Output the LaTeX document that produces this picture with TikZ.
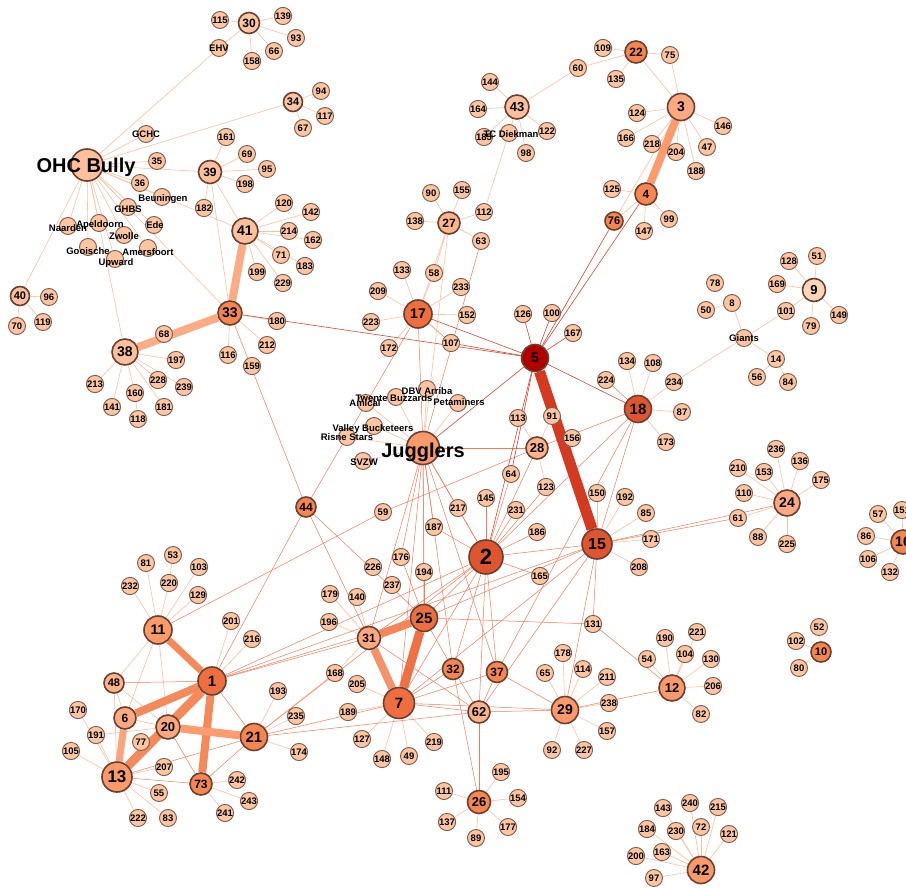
\documentclass[tikz,border=0pt]{standalone}
\usepackage{fontspec}
\setmainfont{Liberation Sans}
\usetikzlibrary{backgrounds}
\definecolor{bord}{HTML}{7D5A4A}
\definecolor{bordD}{HTML}{6A4030}
\definecolor{cL}{HTML}{FCC6A2}
\definecolor{cL2}{HTML}{FCC09C}
\definecolor{cVL}{HTML}{FDD6BA}
\definecolor{cM}{HTML}{FCA880}
\definecolor{cM3}{HTML}{FCB48C}
\definecolor{cM2}{HTML}{FA9A6A}
\definecolor{cO}{HTML}{F58650}
\definecolor{cO2}{HTML}{EE6E40}
\definecolor{cR}{HTML}{DE5530}
\definecolor{cDR}{HTML}{B00000}
\definecolor{eL}{HTML}{FCC0A0}
\definecolor{eM}{HTML}{F27C58}
\definecolor{eR}{HTML}{DA4630}
\definecolor{tA}{HTML}{FC9B6C}
\definecolor{tB}{HTML}{FCAC84}
\definecolor{tC}{HTML}{D43A22}
\definecolor{tD}{HTML}{F5895A}
\definecolor{tE}{HTML}{FC9C70}
\definecolor{tF}{HTML}{FCA47C}
\definecolor{tG}{HTML}{F4865A}
\definecolor{tH}{HTML}{EE7045}
\definecolor{tI}{HTML}{F4926A}
\newcommand\Lnode[3]{\node[leaf] (n#1) at (#2,#3) {#1};}
\newcommand\Hnode[6]{\node[hub={#4}{#5}{#6}] (n#1) at (#2,#3) {#1};}
\newcommand\Nnode[3]{\node[leaf] (#1) at (#2,#3) {};}
\begin{document}
\begin{tikzpicture}[x=1pt,y=-1pt,
  leaf/.style={circle, draw=bord, line width=0.9pt, fill=cL, minimum size=17pt, inner sep=0pt, font=\bfseries\fontsize{9.5}{10}\selectfont},
  hub/.style n args={3}{circle, draw=bordD, line width=1.6pt, minimum size=#1pt, inner sep=0pt, fill=#3, font=\bfseries\fontsize{#2}{#2}\selectfont},
  lab/.style={inner sep=0pt, font=\bfseries\fontsize{9.5}{10}\selectfont},
  biglab/.style={inner sep=0pt, font=\bfseries\fontsize{20}{20}\selectfont},
  le/.style={draw=eL, line width=0.6pt},
  me/.style={draw=eM, line width=0.5pt},
  re/.style={draw=eR, line width=0.6pt},
  tk/.style n args={2}{draw=#1, line width=#2pt}]
\useasboundingbox (0,0) rectangle (906,888);
\clip (0,0) rectangle (906,888);
% ---------- top left
\Hnode{30}{249}{23}{21}{12}{cL}
\Lnode{115}{220}{20}\Lnode{139}{283}{16}\Lnode{93}{296}{38}\Lnode{66}{274}{51}\Lnode{158}{252}{61}
\Nnode{EHV}{219}{48}
\Hnode{34}{293}{102}{19}{11}{cL}
\Lnode{94}{321}{91}\Lnode{117}{325}{116}\Lnode{67}{303}{128}
\Nnode{GCHC}{146}{134}
\node[hub={32}{20}{cL2}] (OHC) at (87,165) {};
\Lnode{35}{157}{161}
\Hnode{39}{210}{172}{23}{12}{cL2}
\Lnode{161}{226}{137}\Lnode{69}{247}{154}\Lnode{95}{267}{169}\Lnode{198}{245}{184}
\Lnode{36}{140}{183}
\Nnode{Beu}{162}{197}
\Lnode{182}{204}{208}
\Nnode{GHBS}{128}{207}\Nnode{Ede}{154}{225}\Nnode{Apel}{99}{223}\Nnode{Naar}{68}{226}
\Nnode{Zwol}{124}{235}\Nnode{Gooi}{88}{247}\Nnode{Amer}{148}{248}\Nnode{Upw}{115}{259}
\Hnode{41}{245}{231}{26}{14}{cL2}
\Lnode{120}{284}{203}\Lnode{142}{311}{212}\Lnode{214}{289}{231}\Lnode{162}{313}{240}
\Lnode{71}{281}{255}\Lnode{183}{305}{266}\Lnode{199}{257}{272}\Lnode{229}{283}{283}
\Hnode{40}{20}{296}{19}{11}{cL2}
\Lnode{96}{49}{297}\Lnode{70}{17}{326}\Lnode{119}{43}{322}
\Hnode{33}{230}{313}{24}{14}{cO}
\Lnode{180}{277}{321}\Lnode{68}{164}{334}
\Hnode{38}{125}{352}{26}{14}{cL2}
\Lnode{197}{176}{360}\Lnode{116}{228}{355}\Lnode{212}{267}{345}\Lnode{159}{252}{366}
\Lnode{213}{95}{384}\Lnode{228}{158}{380}\Lnode{239}{184}{387}\Lnode{160}{135}{393}
\Lnode{141}{112}{407}\Lnode{181}{164}{407}\Lnode{118}{138}{419}
\Hnode{44}{306}{507}{20}{12}{cO}
% ---------- top middle
\Lnode{60}{578}{68}\Lnode{109}{603}{48}\Lnode{144}{490}{82}
\Hnode{43}{517}{107}{24}{13}{cL2}
\Lnode{164}{478}{109}
\Lnode{185}{484}{137}\Nnode{TCD}{509}{133}
\Lnode{122}{547}{131}\Lnode{98}{526}{153}
\Lnode{90}{431}{193}\Lnode{155}{462}{190}\Lnode{112}{484}{212}\Lnode{138}{415}{221}
\Hnode{27}{449}{223}{22}{12}{cM3}
\Lnode{63}{481}{241}\Lnode{133}{402}{270}\Lnode{58}{434}{273}\Lnode{233}{461}{287}\Lnode{209}{378}{291}
% ---------- top right
\Hnode{22}{636}{52}{22}{12}{cO}
\Lnode{75}{670}{55}\Lnode{135}{616}{79}
\Hnode{3}{681}{107}{27}{14}{cM}
\Lnode{124}{637}{113}\Lnode{146}{723}{126}\Lnode{166}{626}{138}\Lnode{218}{652}{144}
\Lnode{47}{707}{147}\Lnode{204}{676}{152}\Lnode{188}{696}{171}\Lnode{125}{612}{189}
\Hnode{4}{646}{194}{22}{12}{cO}
\Hnode{76}{614}{221}{18}{11}{cO}
\Lnode{99}{669}{219}\Lnode{147}{644}{231}
\Lnode{128}{789}{261}\Lnode{51}{817}{256}\Lnode{78}{715}{283}\Lnode{169}{777}{284}
\Hnode{9}{814}{290}{23}{13}{cVL}
\Lnode{8}{732}{303}\Lnode{50}{706}{310}\Lnode{101}{786}{311}\Lnode{149}{839}{315}\Lnode{79}{811}{326}
\Nnode{Gia}{744}{338}
\Lnode{14}{776}{359}\Lnode{56}{757}{377}\Lnode{84}{788}{382}
% ---------- middle
\Hnode{17}{418}{314}{28}{14}{cO2}
\Lnode{223}{371}{322}\Lnode{152}{467}{315}\Lnode{126}{523}{314}\Lnode{100}{552}{313}\Lnode{167}{573}{333}
\Lnode{172}{389}{348}\Lnode{107}{451}{343}
\Hnode{5}{535}{358}{27}{14}{cDR}
\Nnode{Twe}{396}{397}\Nnode{DBV}{427}{389}\Nnode{Ami}{366}{403}\Nnode{Pet}{458}{403}
\Lnode{113}{518}{418}\Lnode{91}{552}{416}\Lnode{156}{572}{438}
\Nnode{Val}{374}{426}\Nnode{Ris}{347}{437}
\node[hub={33}{20}{cM2}] (Jug) at (423,448) {};
\Hnode{28}{537}{448}{22}{13}{cM3}
\Nnode{SVZW}{363}{461}
\Lnode{64}{511}{474}\Lnode{123}{546}{487}\Lnode{145}{486}{498}\Lnode{217}{458}{508}
\Lnode{59}{383}{512}\Lnode{231}{516}{510}\Lnode{150}{597}{493}\Lnode{187}{434}{527}\Lnode{186}{537}{532}
\Hnode{2}{486}{557}{34}{22}{cR}
\Hnode{15}{597}{544}{30}{16}{cR}
\Lnode{176}{401}{557}\Lnode{226}{373}{567}\Lnode{194}{424}{572}\Lnode{165}{540}{576}\Lnode{237}{392}{585}
% ---------- right
\Lnode{134}{627}{361}\Lnode{108}{653}{363}\Lnode{224}{606}{380}\Lnode{234}{674}{382}
\Hnode{18}{638}{409}{27}{15}{cR}
\Lnode{87}{682}{412}\Lnode{173}{666}{442}
\Lnode{236}{776}{449}\Lnode{136}{800}{461}\Lnode{210}{738}{468}\Lnode{153}{764}{472}\Lnode{175}{821}{480}\Lnode{110}{744}{493}
\Hnode{24}{787}{503}{26}{14}{cM}
\Lnode{61}{738}{518}\Lnode{88}{758}{537}\Lnode{225}{787}{544}
\Lnode{192}{625}{497}\Lnode{85}{646}{513}\Lnode{171}{651}{539}\Lnode{208}{639}{567}
\Lnode{57}{878}{514}\Lnode{151}{902}{510}
\Hnode{16}{903}{542}{24}{14}{cO}
\Lnode{86}{866}{536}\Lnode{106}{868}{559}\Lnode{132}{890}{572}
% ---------- lower middle
\Lnode{179}{330}{594}\Lnode{140}{357}{597}\Lnode{196}{329}{622}
\Hnode{25}{424}{618}{27}{15}{cO2}
\Lnode{131}{593}{624}
\Hnode{31}{369}{638}{23}{12}{cM}
\Lnode{178}{563}{653}
\Hnode{32}{453}{669}{21}{12}{cO}
\Hnode{37}{497}{672}{21}{12}{cO}
\Lnode{65}{545}{673}\Lnode{114}{583}{669}\Lnode{168}{335}{673}\Lnode{205}{357}{684}
\Hnode{7}{399}{703}{31}{15}{cO2}
\Lnode{189}{348}{712}
\Hnode{62}{479}{712}{22}{13}{cM3}
\Hnode{29}{565}{710}{27}{14}{cM2}
\Lnode{211}{607}{677}\Lnode{238}{609}{703}\Lnode{157}{607}{731}
\Lnode{127}{362}{739}\Lnode{219}{434}{742}\Lnode{148}{382}{759}\Lnode{49}{409}{756}
\Lnode{92}{552}{750}\Lnode{227}{584}{750}
\Lnode{195}{501}{772}\Lnode{111}{444}{791}\Lnode{154}{518}{798}
\Hnode{26}{479}{802}{23}{13}{cO}
\Lnode{137}{447}{822}\Lnode{177}{508}{827}\Lnode{89}{476}{838}
% ---------- lower right
\Lnode{190}{665}{638}\Lnode{221}{697}{632}\Lnode{104}{685}{654}\Lnode{54}{647}{659}\Lnode{130}{711}{659}
\Hnode{12}{672}{688}{26}{13}{cM2}
\Lnode{206}{713}{686}\Lnode{82}{701}{714}
\Lnode{52}{819}{627}\Lnode{102}{796}{641}
\Hnode{10}{821}{652}{20}{11}{cO}
\Lnode{80}{799}{668}
\Lnode{143}{663}{808}\Lnode{240}{690}{803}\Lnode{215}{718}{807}\Lnode{184}{647}{829}
\Lnode{230}{676}{831}\Lnode{72}{701}{827}\Lnode{121}{729}{834}\Lnode{200}{636}{856}\Lnode{163}{662}{852}
\Hnode{42}{701}{870}{27}{15}{cM2}
\Lnode{97}{654}{878}
% ---------- lower left
\Lnode{81}{146}{563}\Lnode{53}{173}{555}\Lnode{103}{199}{567}\Lnode{232}{130}{586}\Lnode{220}{169}{583}\Lnode{129}{198}{595}
\Hnode{11}{158}{630}{28}{14}{cM2}
\Lnode{201}{231}{621}\Lnode{216}{252}{639}
\Hnode{48}{114}{683}{20}{11}{cM3}
\Hnode{1}{212}{681}{28}{15}{cO2}
\Lnode{193}{278}{691}\Lnode{170}{78}{710}
\Hnode{6}{125}{718}{22}{12}{cM}
\Lnode{235}{296}{716}
\Hnode{20}{168}{727}{24}{13}{cM}
\Lnode{191}{96}{735}
\Hnode{21}{254}{737}{27}{15}{cO}
\Lnode{77}{141}{742}\Lnode{105}{71}{751}\Lnode{174}{299}{752}\Lnode{207}{164}{767}
\Hnode{13}{117}{777}{30}{17}{cM2}
\Lnode{242}{237}{780}
\Hnode{73}{201}{784}{22}{12}{cO}
\Lnode{55}{159}{793}\Lnode{243}{249}{801}\Lnode{241}{225}{813}\Lnode{222}{138}{818}\Lnode{83}{168}{818}
% ---------- edges
\begin{pgfonlayer}{background}
\fill[white] (0,0) rectangle (906,888);
\foreach \a/\b in {n30/n115,n30/n139,n30/n93,n30/n66,n30/n158,n30/EHV,EHV/OHC,
 n34/OHC,n34/n94,n34/n117,n34/n67,
 OHC/GCHC,OHC/n35,OHC/n39,OHC/n36,OHC/Beu,OHC/GHBS,OHC/Ede,OHC/Apel,OHC/Naar,OHC/Zwol,OHC/Gooi,OHC/Upw,OHC/Amer,OHC/n40,OHC/n33,OHC/n38,OHC/n41,
 n39/n161,n39/n69,n39/n95,n39/n198,n39/n182,n39/n41,n39/n33,
 n41/n120,n41/n142,n41/n214,n41/n162,n41/n71,n41/n183,n41/n199,n41/n229,
 n40/n96,n40/n70,n40/n119,
 n38/n68,n38/n197,n38/n213,n38/n141,n38/n160,n38/n228,n38/n239,n38/n181,n160/n118,
 n33/n116,n33/n212,n33/n180,
 n43/n144,n43/n164,n43/n185,n43/TCD,n43/n122,n43/n98,n43/n60,
 TCD/n112,n60/n22,n109/n22,n22/n75,n22/n135,n22/n3,
 n3/n75,n3/n124,n3/n166,n3/n218,n3/n204,n3/n146,n3/n47,n3/n188,n3/n76,
 n4/n125,n4/n147,n4/n99,n4/n76,
 n27/n90,n27/n155,n27/n138,n27/n112,n27/n63,n27/n58,n27/n17,n27/Jug,
 n17/n58,n17/n133,n17/n209,n17/n223,n17/n233,n17/n152,n17/n172,
 n9/n128,n9/n51,n9/n169,n9/n149,n9/n79,n9/n101,
 Gia/n8,Gia/n101,Gia/n14,Gia/n234,n8/n50,n14/n56,n14/n84,
 n18/n134,n18/n108,n18/n234,n18/n87,n18/n173,
 n24/n236,n24/n136,n24/n210,n24/n153,n24/n175,n24/n110,n24/n61,n24/n88,n24/n225,
 n15/n150,n15/n192,n15/n85,n15/n171,n15/n208,
 n16/n57,n16/n151,n16/n86,n16/n106,n16/n132,
 n12/n190,n12/n221,n12/n104,n12/n54,n12/n130,n12/n206,n12/n82,
 n10/n52,n10/n102,n10/n80,
 n42/n143,n42/n240,n42/n215,n42/n184,n42/n230,n42/n72,n42/n121,n42/n200,n42/n163,n42/n97,
 n29/n178,n29/n65,n29/n114,n29/n211,n29/n238,n29/n157,n29/n92,n29/n227,
 n26/n195,n26/n111,n26/n154,n26/n137,n26/n177,n26/n89,
 n7/n205,n7/n189,n7/n127,n7/n148,n7/n49,n7/n219,
 n31/n179,n31/n140,n31/n196,n31/n168,
 Jug/DBV,Jug/Twe,Jug/Ami,Jug/Pet,Jug/Val,Jug/Ris,Jug/SVZW,
 n28/n91,n28/n113,n28/n123,
 n11/n232,n11/n81,n11/n220,n11/n129,n11/n103,n220/n53,
 n1/n201,n1/n216,
 n13/n191,n13/n105,n13/n170,n13/n207,n13/n55,n13/n83,n13/n222,n20/n77,
 n73/n242,n73/n243,n73/n241,
 n21/n193,n21/n235,n21/n174,
 n48/n11,n48/n13,n48/n6,n48/n20,n6/n11,n11/n20,n6/n20,n191/n20,n168/n21}
 \draw[le] (\a) -- (\b);
\foreach \a/\b in {n33/n44,n44/n17,n44/n1,n44/n25,n44/n31,n11/n59,n59/n28,n28/n18,
 n17/Jug,n63/Jug,n17/n107,
 Jug/n28,Jug/n2,Jug/n217,Jug/n187,Jug/n194,Jug/n176,Jug/n25,Jug/n7,Jug/n32,Jug/n37,Jug/n31,
 n2/n145,n2/n217,n2/n231,n2/n186,n2/n165,n2/n187,n2/n64,n2/n123,n2/n28,
 n2/n15,n2/n18,n2/n25,n2/n31,n2/n7,n2/n1,n2/n32,n2/n37,n2/n62,n2/n21,
 n15/n18,n15/n24,n15/n61,n15/n29,n15/n131,n15/n25,n15/n7,n15/n1,n15/n62,
 n25/n131,n25/n32,n25/n1,n25/n176,n25/n194,
 n31/n62,n31/n1,
 n7/n32,n7/n37,n7/n62,n7/n29,n7/n21,
 n32/n62,n32/n26,n37/n62,n37/n29,n37/n18,n62/n29,n62/n26,
 n29/n12,n131/n12,
 n21/n62,n21/n1,n21/n73,n21/n13,n13/n73,n1/n48,n20/n73,n18/n224}
 \draw[me] (\a) -- (\b);
\foreach \a/\b in {n33/n5,n17/n5,n107/n5,n4/n5,n76/n5,n2/n5,n64/n5,Jug/n5,n18/n5,n5/n126,n5/n100,n5/n167}
 \draw[re] (\a) -- (\b);
\draw[tk={tA}{8}] (n3) -- (n4);
\draw[tk={tB}{8}] (n41) -- (n33);
\draw[tk={tB}{8}] (n33) -- (n38);
\draw[tk={tC}{11}] (n5) -- (n15);
\draw[tk={tD}{7}] (n1) -- (n11);
\draw[tk={tD}{8}] (n1) -- (n6);
\draw[tk={tD}{9}] (n1) -- (n13);
\draw[tk={tD}{8}] (n1) -- (n73);
\draw[tk={tE}{8}] (n20) -- (n21);
\draw[tk={tF}{7}] (n6) -- (n13);
\draw[tk={tG}{8}] (n25) -- (n31);
\draw[tk={tH}{9}] (n25) -- (n7);
\draw[tk={tI}{8}] (n31) -- (n7);
\end{pgfonlayer}
% ---------- labels
\node[lab] (tEHV) at (219,48) {EHV};
\node[lab] (tGCHC) at (146,134) {GCHC};
\node[biglab] (tOHC) at (86,167) {OHC Bully};
\node[lab] (tBeu) at (163,199) {Beuningen};
\node[lab] (tGHBS) at (128,209) {GHBS};
\node[lab] (tEde) at (155,225) {Ede};
\node[lab] (tNaar) at (68,228) {Naarden};
\node[lab] (tApel) at (100,225) {Apeldoorn};
\node[lab] (tZwol) at (124,236) {Zwolle};
\node[lab] (tGooi) at (88,251) {Gooische};
\node[lab] (tAmer) at (148,252) {Amersfoort};
\node[lab] (tUpw) at (116,263) {Upward};
\node[lab] (tTCD) at (511,134) {TC Diekman};
\node[lab] (tGia) at (744,338) {Giants};
\node[lab] (tAmi) at (365,403) {Amical};
\node[lab] (tTwe) at (394,398) {Twente Buzzards};
\node[lab] (tDBV) at (427,391) {DBV Arriba};
\node[lab] (tPet) at (459,402) {Petaminers};
\node[lab] (tRis) at (347,437) {Risne Stars};
\node[lab] (tVal) at (373,429) {Valley Bucketeers};
\node[biglab] (tJug) at (423,452) {Jugglers};
\node[lab] (tSVZW) at (364,462) {SVZW};
\end{tikzpicture}
\end{document}
